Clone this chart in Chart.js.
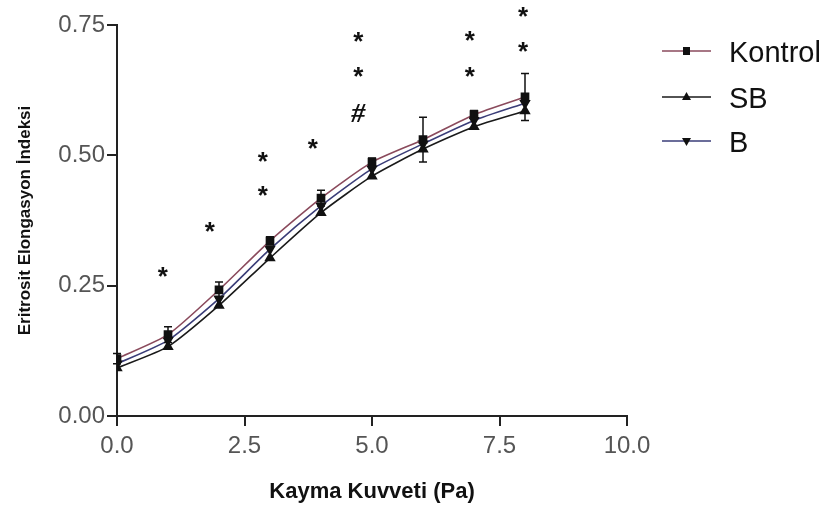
<!DOCTYPE html>
<html>
<head>
<meta charset="utf-8">
<script src="https://cdn.jsdelivr.net/npm/chart.js@4"></script>
<style>
html,body{margin:0;padding:0;background:#fff;}
#wrap{width:831px;height:508px;position:relative;}
</style>
</head>
<body>
<div id="wrap"><canvas id="c" width="831" height="508"></canvas></div>
<script>
// ---- data ----
const shear = [0, 1, 2, 3, 4, 5, 6, 7, 8];
const kontrol = [0.110, 0.156, 0.242, 0.336, 0.418, 0.487, 0.530, 0.578, 0.612];
const sb      = [0.092, 0.133, 0.212, 0.303, 0.390, 0.460, 0.512, 0.555, 0.585];
const bGroup  = [0.100, 0.145, 0.225, 0.320, 0.403, 0.474, 0.522, 0.567, 0.600];
const kontrolErr = [0.010, 0.015, 0.015, 0.008, 0.015, 0.008, 0.043, 0.008, 0.045];
const seriesNames = ['Kontrol', 'SB', 'B'];
const yTicks = [0, 0.25, 0.5, 0.75];
const xTicks = [0, 2.5, 5, 7.5, 10];
// significance marks (data coordinates)
const markX = [0.9, 1.82, 2.86, 2.86, 3.84, 4.73, 4.73, 4.73, 6.92, 6.92, 7.96, 7.96];
const markY = [0.275, 0.36, 0.43, 0.495, 0.52, 0.577, 0.658, 0.725, 0.658, 0.727, 0.706, 0.773];
const markText = ['*', '*', '*', '*', '*', '#', '*', '*', '*', '*', '*', '*'];

const colors = ['#8a4a5c', '#1a1a1a', '#3a3d78'];
const styles = ['rect', 'triangle', 'triangle'];
const rotations = [0, 0, 180];

function pts(arr){ return shear.map((x,i)=>({x:x, y:arr[i]})); }

const errPlugin = {
  id:'errbars',
  afterDatasetsDraw(chart){
    const ctx = chart.ctx, xs = chart.scales.x, ys = chart.scales.y;
    ctx.save();
    ctx.strokeStyle = '#111';
    ctx.lineWidth = 1.5;
    shear.forEach((x,i)=>{
      const px = xs.getPixelForValue(x);
      const top = ys.getPixelForValue(kontrol[i] + kontrolErr[i]);
      const bot = ys.getPixelForValue(kontrol[i] - kontrolErr[i]);
      ctx.beginPath();
      ctx.moveTo(px, top); ctx.lineTo(px, bot);
      ctx.moveTo(px-4, top); ctx.lineTo(px+4, top);
      ctx.moveTo(px-4, bot); ctx.lineTo(px+4, bot);
      ctx.stroke();
    });
    // significance marks
    ctx.fillStyle = '#111';
    ctx.textAlign = 'center';
    ctx.textBaseline = 'middle';
    markX.forEach((x,i)=>{
      const px = xs.getPixelForValue(x), py = ys.getPixelForValue(markY[i]);
      if (markText[i] === '#') {
        ctx.font = 'bold italic 28px "Liberation Serif"';
      } else {
        ctx.font = 'bold 26px "Liberation Sans"';
      }
      ctx.fillText(markText[i], px, py + (markText[i]==='*' ? 5 : 0));
    });
    // legend
    const lx0 = 662, lx1 = 711, ly = [51, 97, 141];
    seriesNames.forEach((name,i)=>{
      const y = ly[i];
      ctx.strokeStyle = colors[i];
      ctx.lineWidth = 1.6;
      ctx.beginPath(); ctx.moveTo(lx0, y); ctx.lineTo(lx1, y); ctx.stroke();
      ctx.fillStyle = '#111';
      const cx = (lx0+lx1)/2;
      ctx.beginPath();
      if (i===0) { ctx.rect(cx-3.5, y-4, 7, 8); }
      else if (i===1) { ctx.moveTo(cx, y-5); ctx.lineTo(cx+4.5, y+3); ctx.lineTo(cx-4.5, y+3); ctx.closePath(); }
      else { ctx.moveTo(cx, y+5); ctx.lineTo(cx+4.5, y-3); ctx.lineTo(cx-4.5, y-3); ctx.closePath(); }
      ctx.fill();
      ctx.fillStyle = '#111';
      ctx.font = '29px "Liberation Sans"';
      ctx.textAlign = 'left';
      ctx.textBaseline = 'middle';
      ctx.fillText(name, 729, y + 3);
    });
    ctx.restore();
  }
};

new Chart(document.getElementById('c'), {
  type:'line',
  data:{
    datasets:[kontrol, sb, bGroup].map((arr,i)=>({
      label: seriesNames[i],
      data: pts(arr),
      borderColor: colors[i],
      backgroundColor: '#111',
      pointBackgroundColor: '#111',
      pointBorderColor: '#111',
      pointStyle: styles[i],
      pointRotation: rotations[i],
      pointRadius: 5,
      borderWidth: 1.6,
      tension: 0.2
    }))
  },
  options:{
    responsive:false,
    animation:false,
    layout:{padding:{left:0, top:25, right:204, bottom:0}},
    plugins:{legend:{display:false}, tooltip:{enabled:false}},
    scales:{
      x:{
        type:'linear', min:0, max:10,
        afterBuildTicks(s){ s.ticks = xTicks.map(v=>({value:v})); },
        afterFit(s){ s.height = 92; },
        border:{color:'#222', width:2},
        grid:{display:true, drawOnChartArea:false, drawTicks:true, tickLength:10, color:'#222', lineWidth:2},
        ticks:{color:'#555', font:{family:'"Liberation Sans"', size:24}, padding:6,
               callback:v=>v.toFixed(1), maxRotation:0},
        title:{display:true, text:'Kayma Kuvveti (Pa)', color:'#111',
               font:{family:'"Liberation Sans"', size:22, weight:'bold'}, padding:{top:0,bottom:3}}
      },
      y:{
        type:'linear', min:0, max:0.75,
        afterBuildTicks(s){ s.ticks = yTicks.map(v=>({value:v})); },
        afterFit(s){ s.width = 117; },
        border:{color:'#222', width:2},
        grid:{display:true, drawOnChartArea:false, drawTicks:true, tickLength:10, color:'#222', lineWidth:2},
        ticks:{color:'#555', font:{family:'"Liberation Sans"', size:24}, padding:2,
               callback:v=>v.toFixed(2)},
        title:{display:true, text:'Eritrosit Elongasyon İndeksi', color:'#111',
               font:{family:'"Liberation Sans Narrow", "Liberation Sans"', size:17, weight:'bold'}, padding:{top:15,bottom:0}}
      }
    }
  },
  plugins:[errPlugin]
});
</script>
</body>
</html>
